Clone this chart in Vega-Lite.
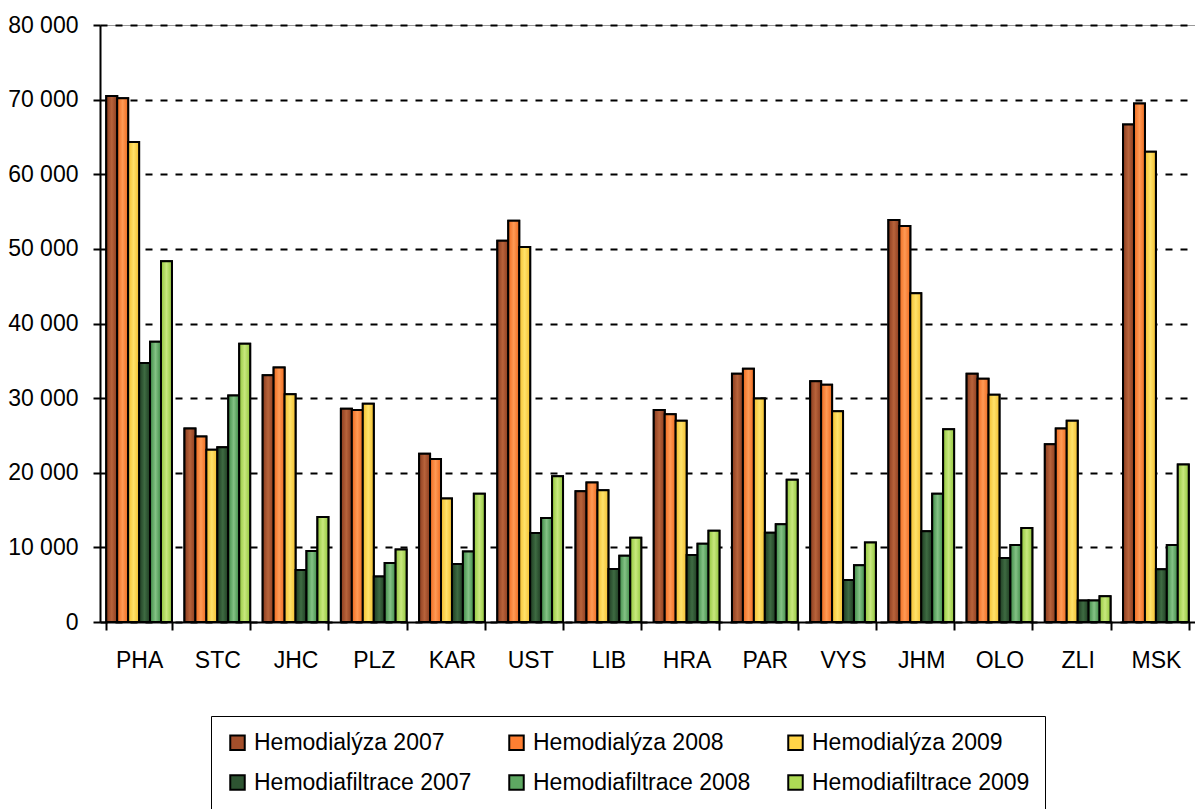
{
  "$schema": "https://vega.github.io/schema/vega-lite/v6.json",
  "width": 1095,
  "height": 597,
  "autosize": {"type": "none"},
  "padding": {"left": 100, "top": 25, "right": 0, "bottom": 187},
  "background": "white",
  "config": {
    "view": {"stroke": "#999999", "strokeWidth": 1},
    "font": "Liberation Sans"
  },
  "data": {
    "values": [
      {"region": "PHA", "series": "Hemodialýza 2007", "value": 70480},
      {"region": "PHA", "series": "Hemodialýza 2008", "value": 70190},
      {"region": "PHA", "series": "Hemodialýza 2009", "value": 64330},
      {"region": "PHA", "series": "Hemodiafiltrace 2007", "value": 34710},
      {"region": "PHA", "series": "Hemodiafiltrace 2008", "value": 37540},
      {"region": "PHA", "series": "Hemodiafiltrace 2009", "value": 48340},
      {"region": "STC", "series": "Hemodialýza 2007", "value": 25940},
      {"region": "STC", "series": "Hemodialýza 2008", "value": 24870},
      {"region": "STC", "series": "Hemodialýza 2009", "value": 23090},
      {"region": "STC", "series": "Hemodiafiltrace 2007", "value": 23430},
      {"region": "STC", "series": "Hemodiafiltrace 2008", "value": 30340},
      {"region": "STC", "series": "Hemodiafiltrace 2009", "value": 37300},
      {"region": "JHC", "series": "Hemodialýza 2007", "value": 33080},
      {"region": "JHC", "series": "Hemodialýza 2008", "value": 34090},
      {"region": "JHC", "series": "Hemodialýza 2009", "value": 30530},
      {"region": "JHC", "series": "Hemodiafiltrace 2007", "value": 6960},
      {"region": "JHC", "series": "Hemodiafiltrace 2008", "value": 9500},
      {"region": "JHC", "series": "Hemodiafiltrace 2009", "value": 14070},
      {"region": "PLZ", "series": "Hemodialýza 2007", "value": 28560},
      {"region": "PLZ", "series": "Hemodialýza 2008", "value": 28420},
      {"region": "PLZ", "series": "Hemodialýza 2009", "value": 29240},
      {"region": "PLZ", "series": "Hemodiafiltrace 2007", "value": 6100},
      {"region": "PLZ", "series": "Hemodiafiltrace 2008", "value": 7920},
      {"region": "PLZ", "series": "Hemodiafiltrace 2009", "value": 9700},
      {"region": "KAR", "series": "Hemodialýza 2007", "value": 22560},
      {"region": "KAR", "series": "Hemodialýza 2008", "value": 21840},
      {"region": "KAR", "series": "Hemodialýza 2009", "value": 16560},
      {"region": "KAR", "series": "Hemodiafiltrace 2007", "value": 7780},
      {"region": "KAR", "series": "Hemodiafiltrace 2008", "value": 9460},
      {"region": "KAR", "series": "Hemodiafiltrace 2009", "value": 17190},
      {"region": "UST", "series": "Hemodialýza 2007", "value": 51080},
      {"region": "UST", "series": "Hemodialýza 2008", "value": 53770},
      {"region": "UST", "series": "Hemodialýza 2009", "value": 50260},
      {"region": "UST", "series": "Hemodiafiltrace 2007", "value": 11910},
      {"region": "UST", "series": "Hemodiafiltrace 2008", "value": 13920},
      {"region": "UST", "series": "Hemodiafiltrace 2009", "value": 19540},
      {"region": "LIB", "series": "Hemodialýza 2007", "value": 17520},
      {"region": "LIB", "series": "Hemodialýza 2008", "value": 18680},
      {"region": "LIB", "series": "Hemodialýza 2009", "value": 17670},
      {"region": "LIB", "series": "Hemodiafiltrace 2007", "value": 7100},
      {"region": "LIB", "series": "Hemodiafiltrace 2008", "value": 8880},
      {"region": "LIB", "series": "Hemodiafiltrace 2009", "value": 11280},
      {"region": "HRA", "series": "Hemodialýza 2007", "value": 28420},
      {"region": "HRA", "series": "Hemodialýza 2008", "value": 27840},
      {"region": "HRA", "series": "Hemodialýza 2009", "value": 26980},
      {"region": "HRA", "series": "Hemodiafiltrace 2007", "value": 8980},
      {"region": "HRA", "series": "Hemodiafiltrace 2008", "value": 10470},
      {"region": "HRA", "series": "Hemodiafiltrace 2009", "value": 12240},
      {"region": "PAR", "series": "Hemodialýza 2007", "value": 33270},
      {"region": "PAR", "series": "Hemodialýza 2008", "value": 33940},
      {"region": "PAR", "series": "Hemodialýza 2009", "value": 29960},
      {"region": "PAR", "series": "Hemodiafiltrace 2007", "value": 11950},
      {"region": "PAR", "series": "Hemodiafiltrace 2008", "value": 13110},
      {"region": "PAR", "series": "Hemodiafiltrace 2009", "value": 19060},
      {"region": "VYS", "series": "Hemodialýza 2007", "value": 32260},
      {"region": "VYS", "series": "Hemodialýza 2008", "value": 31780},
      {"region": "VYS", "series": "Hemodialýza 2009", "value": 28230},
      {"region": "VYS", "series": "Hemodiafiltrace 2007", "value": 5620},
      {"region": "VYS", "series": "Hemodiafiltrace 2008", "value": 7590},
      {"region": "VYS", "series": "Hemodiafiltrace 2009", "value": 10660},
      {"region": "JHM", "series": "Hemodialýza 2007", "value": 53860},
      {"region": "JHM", "series": "Hemodialýza 2008", "value": 53050},
      {"region": "JHM", "series": "Hemodialýza 2009", "value": 44070},
      {"region": "JHM", "series": "Hemodiafiltrace 2007", "value": 12150},
      {"region": "JHM", "series": "Hemodiafiltrace 2008", "value": 17190},
      {"region": "JHM", "series": "Hemodiafiltrace 2009", "value": 25830},
      {"region": "OLO", "series": "Hemodialýza 2007", "value": 33270},
      {"region": "OLO", "series": "Hemodialýza 2008", "value": 32600},
      {"region": "OLO", "series": "Hemodialýza 2009", "value": 30440},
      {"region": "OLO", "series": "Hemodiafiltrace 2007", "value": 8590},
      {"region": "OLO", "series": "Hemodiafiltrace 2008", "value": 10320},
      {"region": "OLO", "series": "Hemodiafiltrace 2009", "value": 12580},
      {"region": "ZLI", "series": "Hemodialýza 2007", "value": 23810},
      {"region": "ZLI", "series": "Hemodialýza 2008", "value": 25920},
      {"region": "ZLI", "series": "Hemodialýza 2009", "value": 26980},
      {"region": "ZLI", "series": "Hemodiafiltrace 2007", "value": 2880},
      {"region": "ZLI", "series": "Hemodiafiltrace 2008", "value": 2880},
      {"region": "ZLI", "series": "Hemodiafiltrace 2009", "value": 3460},
      {"region": "MSK", "series": "Hemodialýza 2007", "value": 66680},
      {"region": "MSK", "series": "Hemodialýza 2008", "value": 69470},
      {"region": "MSK", "series": "Hemodialýza 2009", "value": 63030},
      {"region": "MSK", "series": "Hemodiafiltrace 2007", "value": 7060},
      {"region": "MSK", "series": "Hemodiafiltrace 2008", "value": 10320},
      {"region": "MSK", "series": "Hemodiafiltrace 2009", "value": 21120}
    ]
  },
  "encoding": {
    "x": {
      "field": "region",
      "type": "nominal",
      "sort": null,
      "scale": {"paddingInner": 0.16, "paddingOuter": 0.08},
      "axis": {
        "title": null,
        "labelAngle": 0,
        "labelFontSize": 23,
        "labelColor": "black",
        "labelPadding": 19,
        "tickBand": "extent",
        "tickSize": 8,
        "tickWidth": 2,
        "tickColor": "black",
        "domainColor": "black",
        "domainWidth": 2
      }
    },
    "xOffset": {
      "field": "series",
      "type": "nominal",
      "sort": ["Hemodialýza 2007", "Hemodialýza 2008", "Hemodialýza 2009", "Hemodiafiltrace 2007", "Hemodiafiltrace 2008", "Hemodiafiltrace 2009"],
      "scale": {"paddingInner": 0, "paddingOuter": 0}
    },
    "y": {
      "field": "value",
      "type": "quantitative",
      "scale": {"domain": [0, 80000], "nice": false},
      "axis": {
        "title": null,
        "values": [0, 10000, 20000, 30000, 40000, 50000, 60000, 70000, 80000],
        "labelExpr": "replace(format(datum.value, ','), ',', ' ')",
        "labelFontSize": 23,
        "labelColor": "black",
        "labelPadding": 15,
        "tickSize": 7,
        "tickWidth": 2,
        "tickColor": "black",
        "domainColor": "black",
        "domainWidth": 2,
        "grid": true,
        "gridColor": "black",
        "gridWidth": 2,
        "gridDash": [7, 8]
      }
    }
  },
  "layer": [
    {
      "mark": {"type": "bar", "stroke": "black", "strokeWidth": 2},
      "encoding": {
        "color": {
          "field": "series",
          "type": "nominal",
          "scale": {
            "domain": ["Hemodialýza 2007", "Hemodialýza 2008", "Hemodialýza 2009", "Hemodiafiltrace 2007", "Hemodiafiltrace 2008", "Hemodiafiltrace 2009"],
            "range": ["#A34F2B", "#FF7F32", "#FFD447", "#2E5432", "#5EA862", "#AEDA55"]
          },
          "legend": {
            "title": null,
            "orient": "none",
            "legendX": 111,
            "legendY": 691,
            "direction": "horizontal",
            "columns": 3,
            "columnPadding": 33,
            "rowPadding": 16,
            "padding": 15,
            "strokeColor": "black",
            "fillColor": "white",
            "symbolType": "square",
            "symbolSize": 210,
            "symbolStrokeColor": "black",
            "symbolStrokeWidth": 2,
            "symbolOpacity": 1,
            "labelFontSize": 23,
            "labelColor": "black",
            "labelOffset": 5,
            "labelLimit": 400
          }
        }
      }
    },
    {
      "mark": {"type": "bar", "stroke": "black", "strokeWidth": 2},
      "encoding": {
        "fill": {
          "condition": [
            {"test": "datum.series === 'Hemodialýza 2007'", "value": {"gradient": "linear", "x1": 0, "y1": 0, "x2": 1, "y2": 0, "stops": [{"offset": 0, "color": "#8A3C1E"}, {"offset": 0.5, "color": "#B8633B"}, {"offset": 1, "color": "#8A3C1E"}]}},
            {"test": "datum.series === 'Hemodialýza 2008'", "value": {"gradient": "linear", "x1": 0, "y1": 0, "x2": 1, "y2": 0, "stops": [{"offset": 0, "color": "#EE6A1E"}, {"offset": 0.5, "color": "#FF9A55"}, {"offset": 1, "color": "#EE6A1E"}]}},
            {"test": "datum.series === 'Hemodialýza 2009'", "value": {"gradient": "linear", "x1": 0, "y1": 0, "x2": 1, "y2": 0, "stops": [{"offset": 0, "color": "#F2BE2E"}, {"offset": 0.5, "color": "#FFE26A"}, {"offset": 1, "color": "#F2BE2E"}]}},
            {"test": "datum.series === 'Hemodiafiltrace 2007'", "value": {"gradient": "linear", "x1": 0, "y1": 0, "x2": 1, "y2": 0, "stops": [{"offset": 0, "color": "#1E3C22"}, {"offset": 0.5, "color": "#3E6B42"}, {"offset": 1, "color": "#1E3C22"}]}},
            {"test": "datum.series === 'Hemodiafiltrace 2008'", "value": {"gradient": "linear", "x1": 0, "y1": 0, "x2": 1, "y2": 0, "stops": [{"offset": 0, "color": "#3E8A46"}, {"offset": 0.5, "color": "#84C285"}, {"offset": 1, "color": "#3E8A46"}]}}
          ],
          "value": {"gradient": "linear", "x1": 0, "y1": 0, "x2": 1, "y2": 0, "stops": [{"offset": 0, "color": "#92C63C"}, {"offset": 0.5, "color": "#C8E87E"}, {"offset": 1, "color": "#92C63C"}]}
        }
      }
    }
  ]
}
